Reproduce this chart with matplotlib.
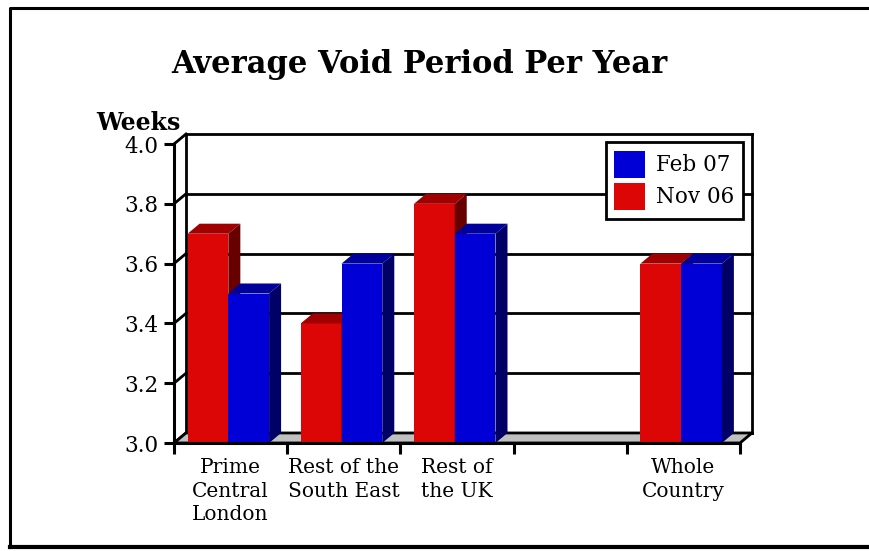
import numpy as np
import matplotlib
matplotlib.use("Agg")
import matplotlib.pyplot as plt
from matplotlib.patches import Polygon, Patch
from matplotlib.lines import Line2D

categories = ["Prime\nCentral\nLondon", "Rest of the\nSouth East", "Rest of\nthe UK", "", "Whole\nCountry"]
nov06 = [3.7, 3.4, 3.8, np.nan, 3.6]
feb07 = [3.5, 3.6, 3.7, np.nan, 3.6]
yticks = [3.0, 3.2, 3.4, 3.6, 3.8, 4.0]

plt.rcParams['font.family'] = ['DejaVu Serif']

W, H = 870, 551
fig = plt.figure(figsize=(W / 100, H / 100), dpi=100)

# depth of the fake 3d box, in data units
DX = 12 / 113.2
DY = 10 / 298.0
Y0 = 3.0
BW = 0.36
GRID_LW = 2.0

ax = fig.add_axes([174 / W, (H - 443) / H, 578 / W, 309 / H])
ax.set_xlim(0, len(categories) + DX)
ax.set_ylim(Y0, 4.0 + DY)

# back wall grid, left wall diagonals
for y in yticks:
    ax.plot([DX, len(categories) + DX], [y + DY, y + DY], color='black', lw=GRID_LW, zorder=1, clip_on=False)
    ax.plot([0, DX], [y, y + DY], color='black', lw=GRID_LW, zorder=1, clip_on=False)
ax.plot([DX, DX], [Y0 + DY, 4.0 + DY], color='black', lw=GRID_LW, zorder=1, clip_on=False)
ax.plot([len(categories) + DX] * 2, [Y0 + DY, 4.0 + DY], color='black', lw=GRID_LW, zorder=1, clip_on=False)

# floor
n = len(categories)
ax.add_patch(Polygon([(0, Y0), (n, Y0), (n + DX, Y0 + DY), (DX, Y0 + DY)],
                     closed=True, facecolor='#c0c0c0', edgecolor='black', lw=GRID_LW, zorder=1.5,
                     clip_on=False))


def bar3d(x0, top, front, lid, side, z):
    ax.bar(x0, top - Y0, width=BW, bottom=Y0, align='edge', color=front, zorder=z)
    ax.add_patch(Polygon([(x0, top), (x0 + BW, top), (x0 + BW + DX, top + DY), (x0 + DX, top + DY)],
                         closed=True, facecolor=lid, edgecolor='none', zorder=z))
    ax.add_patch(Polygon([(x0 + BW, Y0), (x0 + BW + DX, Y0 + DY), (x0 + BW + DX, top + DY), (x0 + BW, top)],
                         closed=True, facecolor=side, edgecolor='none', zorder=z))


z = 2
for i in range(n):
    c = i + 0.48
    if not np.isnan(nov06[i]):
        bar3d(c - BW, nov06[i], '#dd0606', '#a00000', '#680000', z)
        z += 0.01
    if not np.isnan(feb07[i]):
        bar3d(c, feb07[i], '#0000d6', '#00009c', '#000066', z)
        z += 0.01

for s in ['top', 'right']:
    ax.spines[s].set_visible(False)
ax.spines['left'].set_bounds(Y0, 4.0)
ax.spines['bottom'].set_bounds(0, n)
for s in ['left', 'bottom']:
    ax.spines[s].set_linewidth(2.2)
    ax.spines[s].set_zorder(4)

ax.set_yticks(yticks)
ax.set_yticklabels([f"{v:.1f}" for v in yticks], fontsize=15.5)
ax.set_xticks(range(n + 1))
ax.set_xticklabels([])
ax.set_xticks([i + 0.5 for i in range(n)], minor=True)
ax.set_xticklabels(categories, minor=True, fontsize=14.5, linespacing=1.3)
ax.tick_params(axis='y', length=7, width=2.2, pad=4)
ax.tick_params(axis='x', which='major', length=8, width=2.2)
ax.tick_params(axis='x', which='minor', length=0, pad=11)
ax.patch.set_visible(False)

handles = [Patch(facecolor='#0000d6', label='Feb 07'), Patch(facecolor='#dd0606', label='Nov 06')]
leg = fig.legend(handles=handles, loc='upper right', bbox_to_anchor=(743 / W, 1 - 142 / H),
                 fontsize=15.5, handlelength=1.45, handleheight=1.6, labelspacing=0.2,
                 borderpad=0.4, handletextpad=0.5, borderaxespad=0, fancybox=False,
                 framealpha=1, edgecolor='black')
leg.get_frame().set_linewidth(2)
leg.set_zorder(10)

fig.text(419 / W, 1 - 73 / H, "Average Void Period Per Year", ha='center', va='baseline',
         fontsize=22, fontweight='bold')
fig.text(138 / W, 1 - 130 / H, "Weeks", ha='center', va='baseline', fontsize=17, fontweight='bold')

# outer frame
fig.add_artist(Line2D([10 / W, 10 / W, 1], [1 - 547 / H, 1 - 8 / H, 1 - 8 / H],
                      transform=fig.transFigure, color='black', lw=2.2))
fig.add_artist(Line2D([10 / W, 1], [1 - 547 / H, 1 - 547 / H],
                      transform=fig.transFigure, color='black', lw=3))

fig.savefig("out.png", dpi=100)
